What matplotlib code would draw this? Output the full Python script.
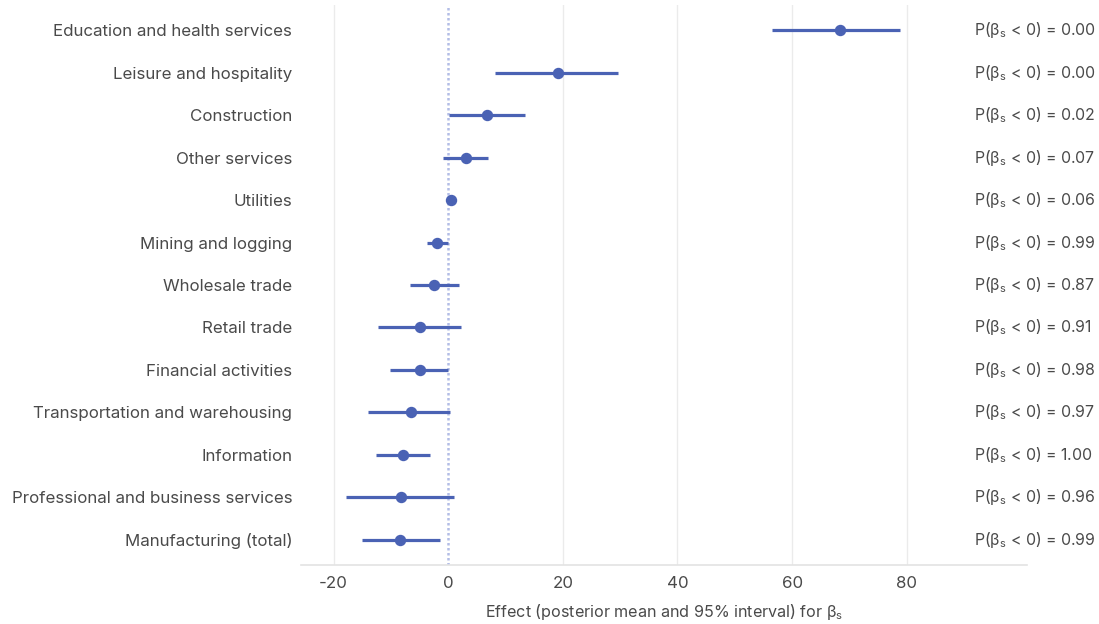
import matplotlib
matplotlib.use("Agg")
import matplotlib.pyplot as plt

plt.rcParams["font.family"] = ["Inter", "DejaVu Sans"]
plt.rcParams["mathtext.fontset"] = "custom"
plt.rcParams["mathtext.rm"] = "Inter"
plt.rcParams["mathtext.it"] = "Inter"
plt.rcParams["axes.unicode_minus"] = False

sectors = [
    "Education and health services",
    "Leisure and hospitality",
    "Construction",
    "Other services",
    "Utilities",
    "Mining and logging",
    "Wholesale trade",
    "Retail trade",
    "Financial activities",
    "Transportation and warehousing",
    "Information",
    "Professional and business services",
    "Manufacturing (total)",
]
means = [68.3, 19.2, 6.8, 3.1, 0.5, -2.0, -2.4, -4.9, -5.0, -6.5, -7.9, -8.2, -8.5]
lower = [56.5, 8.2, 0.2, -1.0, -0.1, -3.7, -6.6, -12.3, -10.1, -14.0, -12.6, -17.9, -15.1]
upper = [78.8, 29.6, 13.4, 7.0, 1.2, -0.1, 1.9, 2.3, 0.0, 0.3, -3.1, 1.0, -1.4]
p_neg = [0.00, 0.00, 0.02, 0.07, 0.06, 0.99, 0.87, 0.91, 0.98, 0.97, 1.00, 0.96, 0.99]

point_color = "#4a62b4"
text_color = "#4a4a4a"

fig = plt.figure(figsize=(10.99, 6.24), dpi=100)
ax = fig.add_axes([0.2736, 0.0946, 0.6609, 0.8974])

ypos = list(range(1, len(sectors) + 1))

for x in [-20, 20, 40, 60, 80]:
    ax.axvline(x, color="#ebebeb", lw=1.0, zorder=0)
ax.axvline(0, color="#b3bde6", lw=1.8, ls=(0, (1, 1)), zorder=1)

ax.hlines(ypos, lower, upper, color=point_color, lw=2.3, zorder=2)
ax.plot(means, ypos, "o", color=point_color, ms=7.2, zorder=3)

for y, p in zip(ypos, p_neg):
    ax.text(91.7, y, r"P(β$_{\mathregular{s}}$ < 0) = " + f"{p:.2f}",
            ha="left", va="center", fontsize=11.4, color=text_color, clip_on=False)

ax.set_xlim(-25.75, 101.0)
ax.set_ylim(13.6, 0.4)
ax.set_yticks(ypos)
ax.set_yticklabels(sectors)
ax.set_xticks([-20, 0, 20, 40, 60, 80])
ax.tick_params(axis="both", length=0, labelsize=12.2, labelcolor=text_color)
ax.tick_params(axis="y", pad=6)
ax.tick_params(axis="x", pad=8)

for side in ["top", "right", "left"]:
    ax.spines[side].set_visible(False)
ax.spines["bottom"].set_color("#e3e3e3")
ax.spines["bottom"].set_linewidth(1.2)

ax.set_xlabel(r"Effect (posterior mean and 95% interval) for β$_{\mathregular{s}}$",
              fontsize=11.6, color=text_color, labelpad=8)

fig.savefig("out.png", dpi=100, facecolor="white")
